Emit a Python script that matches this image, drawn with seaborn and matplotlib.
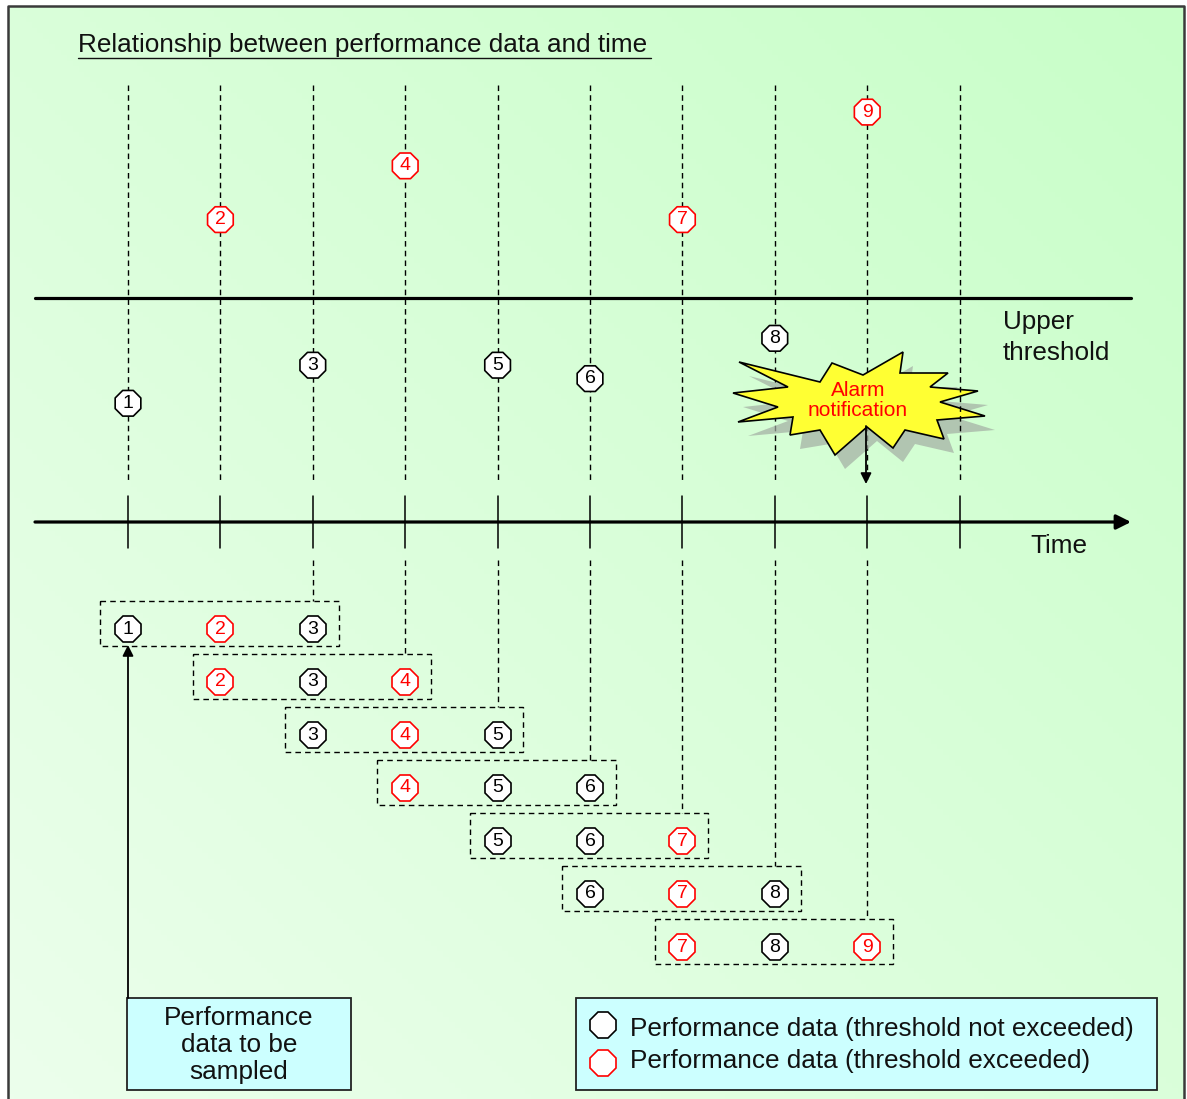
import numpy as np
import pandas as pd
import matplotlib
matplotlib.use('Agg')
import matplotlib.pyplot as plt
from matplotlib.patches import Rectangle, Polygon
from matplotlib.transforms import blended_transform_factory
import seaborn as sns

# performance samples: time index vs. measured value
sample_time = [1, 2, 3, 4, 5, 6, 7, 8, 9]
sample_value = [53, 135, 70, 159, 70, 64, 135, 82, 183]
sample_label = ['1', '2', '3', '4', '5', '6', '7', '8', '9']
upper_threshold = 100
time_ticks = [1, 2, 3, 4, 5, 6, 7, 8, 9, 10]
window_size = 3

title = 'Relationship between performance data and time'
legend_labels = ['Performance data (threshold not exceeded)',
                 'Performance data (threshold exceeded)']

# image layout (pixels)
W, H = 1187, 1099
X0, DX = 128, 92.4      # pixel of time 1, pixels per time step
Y0, DY = 522, 2.24      # pixel of value 0, pixels per value unit
FONT = 'Liberation Sans'
DIGIT_SIZE = 14

sns.set_style('white')
plt.rcParams['font.family'] = [FONT, 'DejaVu Sans']

fig = plt.figure(figsize=(W / 100, H / 100), dpi=100)
lay = fig.add_axes([0, 0, 1, 1])
lay.set_xlim(0, W)
lay.set_ylim(H, 0)
lay.axis('off')
lay.set_zorder(0)

ax = fig.add_axes([0, 0, 1, 1])
ax.patch.set_alpha(0)
ax.axis('off')
ax.set_zorder(1)
xlim = (1 - X0 / DX, 1 + (W - X0) / DX)
ylim = ((Y0 - H) / DY, Y0 / DY)
mixed = blended_transform_factory(ax.transData, lay.transData)

# background gradient and frame
n = 200
gx, gy = np.meshgrid(np.linspace(0, 1, n), np.linspace(1, 0, n))
t = (gx + gy) / 2
light = np.array([236, 254, 236]) / 255
dark = np.array([200, 254, 200]) / 255
grad = light + (dark - light) * t[..., None]
lay.imshow(grad, extent=(8, 1184, H, 6), aspect='auto', origin='upper', zorder=0)
lay.plot([8, 8, 1184, 1184], [H + 5, 6, 6, H + 5], color='#3a3a3a', lw=1.8, zorder=1)

# title
lay.text(78, 45, title, fontsize=18.8, ha='left', va='center', color='#111111')
lay.plot([78, 651], [58, 58], color='#111111', lw=1.0)

dash = dict(color='black', lw=1.0, dashes=(4, 3))

# vertical dashed guides above the time axis
for tt in time_ticks:
    ax.plot([tt, tt], [(Y0 - 85) / DY, (Y0 - 482) / DY], zorder=6 if tt == 10 else 2, **dash)

# threshold and time axis
x_end = 1 + (1131 - X0) / DX
x_start = 1 + (35 - X0) / DX
ax.plot([x_start, x_end], [upper_threshold, upper_threshold], color='black', lw=2.3, zorder=3)
ax.annotate('', xy=(x_end, 0), xytext=(x_start, 0),
            arrowprops=dict(arrowstyle='-|>', color='black', lw=2.3, mutation_scale=22,
                            shrinkA=0, shrinkB=0), zorder=3)
tick_half = 26 / DY
for tt in time_ticks:
    ax.plot([tt, tt], [-tick_half, tick_half], color='black', lw=1.1, zorder=3)

lay.text(1003, 322, 'Upper', fontsize=18.8, ha='left', va='center', color='#111111')
lay.text(1003, 353, 'threshold', fontsize=18.8, ha='left', va='center', color='#111111')
lay.text(1030, 546, 'Time', fontsize=18.8, ha='left', va='center', color='#111111')

# alarm burst
star = [(739, 362), (820, 382), (832, 363), (863, 375), (903, 352), (900, 373),
        (948, 373), (930, 387), (978, 391), (940, 402), (985, 416), (937, 420),
        (944, 439), (905, 430), (893, 448), (867, 427), (835, 455), (820, 430),
        (790, 435), (793, 417), (738, 422), (778, 407), (733, 393), (788, 387)]
shadow = [(x + 10, y + 14) for x, y in star]
ax.add_patch(Polygon(shadow, closed=True, transform=lay.transData, facecolor='#a3ada3',
                     alpha=0.7, edgecolor='none', zorder=4))
ax.add_patch(Polygon(star, closed=True, transform=lay.transData, facecolor='#ffff33',
                     edgecolor='black', lw=1.2, zorder=5))
ax.text(858, 390, 'Alarm', transform=lay.transData, fontsize=15, color='red',
        ha='center', va='center', zorder=6)
ax.text(858, 411, 'notification', transform=lay.transData, fontsize=15, color='red',
        ha='center', va='center', zorder=6)
ax.annotate('', xy=(866, 484), xytext=(866, 426), xycoords=lay.transData,
            textcoords=lay.transData,
            arrowprops=dict(arrowstyle='-|>', color='black', lw=1.3, mutation_scale=16,
                            shrinkA=0, shrinkB=0), zorder=6)

# samples above the axis
df = pd.DataFrame({'time': sample_time, 'value': sample_value, 'label': sample_label})
df['exceeded'] = df['value'] > upper_threshold
sns.scatterplot(data=df, x='time', y='value', hue='exceeded',
                palette={False: 'black', True: 'red'}, marker='8', s=400,
                linewidth=1.2, legend=False, ax=ax, zorder=7)
coll = ax.collections[-1]
coll.set_edgecolors(coll.get_facecolors())
coll.set_facecolors('white')
for _, r in df.iterrows():
    ax.text(r['time'], r['value'], r['label'], fontsize=DIGIT_SIZE,
            color='red' if r['exceeded'] else 'black', ha='center', va='center', zorder=8)


def octagon(x, y, label, exceeded, transform, target):
    c = 'red' if exceeded else 'black'
    target.plot([x], [y], marker='8', ms=20, mfc='white', mec=c, mew=1.2,
                transform=transform, zorder=7)
    target.text(x, y, label, fontsize=DIGIT_SIZE, color=c, ha='center', va='center',
                transform=transform, zorder=8)


# sliding windows below the axis
row0, row_step = 629, 53
for k in range(len(sample_time) - window_size + 1):
    yc = row0 + k * row_step
    win = df.iloc[k:k + window_size]
    left = win['time'].iloc[0] - 0.30
    right = win['time'].iloc[-1] + 0.28
    ax.add_patch(Rectangle((left, yc - 28), right - left, 45, transform=mixed,
                           fill=False, edgecolor='black', lw=1.0, linestyle=(0, (4, 3)),
                           zorder=5))
    new_t = win['time'].iloc[-1]
    ax.plot([new_t, new_t], [560, yc - 28], transform=mixed, **dash)
    for _, r in win.iterrows():
        octagon(r['time'], yc, r['label'], r['exceeded'], mixed, ax)

# box for sampled data
lay.add_patch(Rectangle((127, 998), 224, 92, facecolor='#ccffff', edgecolor='#222222',
                        lw=1.3, zorder=2))
for i, line in enumerate(['Performance', 'data to be', 'sampled']):
    lay.text(239, 1018 + i * 27, line, fontsize=18.8, ha='center', va='center',
             color='#111111', zorder=3)
ax.annotate('', xy=(1, 645), xytext=(1, 998), xycoords=mixed, textcoords=mixed,
            arrowprops=dict(arrowstyle='-|>', color='black', lw=1.3, mutation_scale=16,
                            shrinkA=0, shrinkB=0), zorder=6)

# legend
lay.add_patch(Rectangle((576, 998), 581, 92, facecolor='#ccffff', edgecolor='#222222',
                        lw=1.3, zorder=2))
for i, (lab, exc) in enumerate(zip(legend_labels, [False, True])):
    yy = 1025 + i * 38
    lay.plot([603], [yy], marker='8', ms=20, mfc='white', mec='red' if exc else 'black',
             mew=1.2, zorder=3)
    lay.text(630, 1029 + i * 32, lab, fontsize=18.8, ha='left', va='center',
             color='#111111', zorder=3)

ax.set_xlim(*xlim)
ax.set_ylim(*ylim)
fig.savefig('out.png', dpi=100)
